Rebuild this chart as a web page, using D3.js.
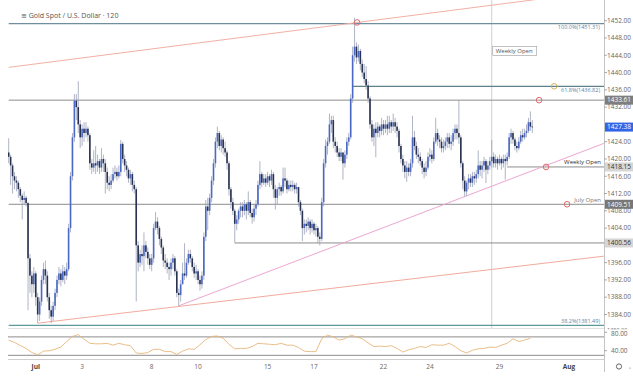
<!DOCTYPE html>
<html>
<head>
<meta charset="utf-8">
<script src="https://cdnjs.cloudflare.com/ajax/libs/d3/7.8.5/d3.min.js"></script>
<style>
body { margin: 0; background: #fff; }
svg { display: block; font-family: "Open Sans", "DejaVu Sans", sans-serif; }
</style>
</head>
<body>
<div id="chart"></div>
<script>
// 2h bars, Jun 28 -> Jul 30 (open of each bar = previous close)
var startOpen = 1421.5;

var closes = [
    1420.5, 1418.5, 1416.0, 1415.0, 1414.5, 1413.0, 1411.5, 1410.5, 1411.0, 1409.8,
    1397, 1393, 1391, 1393.5, 1388, 1384, 1387, 1392, 1394.5, 1393,
    1388, 1385, 1383.5, 1386, 1389, 1392, 1393.5, 1392, 1394, 1393,
    1394.5, 1404, 1416, 1425, 1433.5, 1432, 1428, 1425, 1427, 1426,
    1427, 1425.5, 1419, 1418, 1419, 1418.5, 1419.5, 1418, 1420, 1419,
    1417, 1414.5, 1414, 1415, 1416.5, 1417, 1416, 1417, 1423.5, 1420,
    1418.5, 1417.5, 1415.5, 1416.5, 1414, 1413, 1400, 1396, 1398, 1397.5,
    1400, 1398.5, 1397, 1395.5, 1397, 1404, 1405.5, 1404, 1401.5, 1399.5,
    1396.5, 1396, 1395, 1394.5, 1396, 1397, 1394, 1389, 1388.5, 1391,
    1393.5, 1393, 1396, 1398, 1397, 1395, 1393.5, 1394, 1392, 1391,
    1393, 1402, 1409, 1408, 1411, 1415, 1419, 1424, 1426, 1423,
    1424.5, 1422.5, 1421.5, 1419, 1413, 1410, 1408, 1405, 1406, 1408,
    1409, 1408, 1409.5, 1408, 1410, 1407.5, 1406.5, 1408.5, 1409.5, 1414,
    1416.5, 1414.5, 1415.5, 1414.5, 1416, 1415, 1416.5, 1413, 1411, 1413,
    1413.5, 1412.5, 1415.5, 1415, 1413, 1414, 1413.5, 1414, 1413, 1413.5,
    1410, 1408, 1404, 1405, 1404.5, 1405.5, 1404, 1405, 1403.5, 1404,
    1402, 1401.5, 1410, 1419, 1423, 1424, 1428, 1429, 1424, 1423,
    1421.5, 1420.5, 1421.5, 1419, 1421, 1424, 1425, 1434, 1444, 1446,
    1443.5, 1445, 1442, 1440, 1438.5, 1437, 1434, 1428, 1425, 1427,
    1426, 1427.5, 1426.5, 1428, 1427, 1428, 1427, 1428.5, 1427.5, 1428.5,
    1427.5, 1426.5, 1423, 1420, 1418.5, 1417, 1418, 1417, 1419, 1425,
    1423, 1421, 1420.5, 1419.5, 1418, 1417, 1418, 1420.5, 1421, 1420,
    1424, 1426, 1424.5, 1424, 1422.5, 1423, 1424, 1425, 1423.5, 1424,
    1426, 1427, 1426, 1425, 1419, 1415, 1412.5, 1414.5, 1415.5, 1414.5,
    1416, 1415.5, 1416.5, 1418.5, 1417.5, 1418.5, 1419.5, 1417.5, 1418.5, 1419.5,
    1420.5, 1419, 1420, 1419, 1420, 1419, 1420, 1419.5, 1420.5, 1425,
    1426, 1424.5, 1423, 1422.5, 1424, 1425.5, 1425, 1426, 1426.5, 1428.5,
    1427.5, 1427.38
];

var highs = [
    1424.8, 1421, 1419, 1417, 1416, 1415, 1413.5, 1412, 1412.5, 1411.5,
    1410, 1398, 1394, 1395, 1394, 1389, 1388, 1393, 1396, 1396.5,
    1394, 1389, 1386, 1387, 1390, 1393, 1395, 1394.5, 1395.5, 1395,
    1396, 1405, 1417, 1426, 1435, 1435, 1438, 1429, 1428, 1428.5,
    1428.5, 1427.5, 1426, 1420, 1422, 1423, 1421, 1420, 1422.5, 1421,
    1420, 1418, 1416, 1416.5, 1418, 1418.5, 1418, 1418.5, 1424.4, 1424,
    1421, 1419.5, 1418, 1417.5, 1417, 1415, 1413.5, 1401, 1399, 1400,
    1403, 1401, 1399.5, 1398, 1398, 1405, 1407.7, 1406.5, 1404.5, 1402,
    1400, 1398, 1397, 1396, 1397, 1398, 1397.5, 1394.5, 1390, 1392,
    1396, 1400.5, 1397, 1399, 1399, 1397.5, 1396, 1395.5, 1394.5, 1393,
    1394, 1403, 1410.5, 1411, 1412, 1416, 1420, 1425, 1427.5, 1426.5,
    1425.5, 1425, 1424, 1422, 1419.5, 1413.5, 1411, 1408.5, 1407, 1408.5,
    1410, 1410, 1410.5, 1410, 1412.5, 1410.5, 1408.5, 1409.5, 1410.5, 1415,
    1419.5, 1417, 1416.5, 1416.5, 1417, 1416.5, 1417.5, 1417, 1414, 1413.5,
    1414.5, 1414, 1418, 1418, 1415.5, 1415, 1415, 1415, 1414.5, 1414.5,
    1413.5, 1410.5, 1408.5, 1406, 1406, 1406.5, 1406, 1406, 1405.5, 1405,
    1404.5, 1403, 1411, 1420, 1424.5, 1425, 1430.5, 1430, 1430, 1425,
    1424, 1422.5, 1422.5, 1421.5, 1422, 1425, 1426, 1435, 1446, 1452.7,
    1447, 1446.5, 1445.5, 1443, 1442, 1441.5, 1438, 1434.5, 1429, 1428,
    1428.5, 1428.5, 1428, 1429.5, 1429, 1429, 1430, 1430, 1429, 1430.5,
    1429.5, 1428.5, 1427, 1423.5, 1421, 1419.5, 1419.5, 1419, 1420, 1430,
    1426.5, 1424, 1422.5, 1421.5, 1420, 1419, 1419.5, 1421.5, 1422.5, 1422,
    1425, 1429.5, 1427, 1425.5, 1425, 1424.5, 1425, 1426, 1426, 1425.5,
    1427, 1428, 1428, 1433.6, 1425.5, 1419.5, 1416, 1415, 1416.5, 1416.5,
    1417, 1417, 1417.5, 1422, 1419.5, 1419.5, 1420.5, 1420, 1419.5, 1420.5,
    1424.4, 1421.5, 1421, 1420.5, 1421, 1420.5, 1421, 1421, 1421.5, 1426,
    1427, 1426.5, 1425, 1424, 1425, 1426.5, 1427, 1427, 1428, 1429.5,
    1431, 1429
];

var lows = [
    1419, 1414, 1412, 1413, 1412.5, 1411, 1410, 1406, 1409.5, 1409,
    1385, 1389, 1388, 1389, 1386, 1382, 1382.5, 1386, 1391, 1391,
    1387, 1383, 1382, 1382.5, 1385, 1388, 1391, 1390.5, 1391.5, 1391,
    1392, 1394, 1403, 1415, 1424, 1429, 1426, 1422.5, 1423, 1424,
    1425, 1424, 1417.5, 1416.5, 1417, 1416.5, 1417, 1416.5, 1417, 1417,
    1412, 1413, 1412.5, 1413, 1414.5, 1415.5, 1415, 1415.5, 1416, 1419,
    1417, 1416, 1414.5, 1414, 1412.5, 1412, 1387, 1394, 1395, 1395.5,
    1394, 1397, 1395.5, 1394.5, 1394, 1396, 1403.5, 1402.5, 1400, 1398,
    1395, 1394.5, 1393.5, 1392, 1393, 1394.5, 1393, 1388, 1386, 1387,
    1391, 1392, 1392.5, 1395.5, 1396, 1394, 1392.5, 1392, 1391, 1389.5,
    1390, 1392, 1401, 1403.5, 1407, 1410, 1414, 1418, 1422.5, 1422,
    1421.5, 1421, 1420.5, 1417.5, 1411.5, 1408.5, 1407, 1400.6, 1403.5, 1405,
    1406.5, 1406.5, 1407, 1406, 1407, 1406.5, 1405, 1405.5, 1407, 1409,
    1413, 1413.5, 1414, 1413.5, 1414, 1413.5, 1414, 1411, 1408.3, 1409.5,
    1411.5, 1411.5, 1412, 1413.5, 1412, 1412.5, 1412.5, 1412.5, 1412, 1412,
    1409, 1407, 1401, 1402.5, 1403, 1403.5, 1402.5, 1403, 1402.5, 1402,
    1400.5, 1400, 1401, 1409, 1418, 1421, 1423.5, 1426, 1422.5, 1421.5,
    1420.5, 1419.5, 1419.5, 1415.2, 1418, 1420, 1423, 1424.5, 1433, 1442.5,
    1442, 1442.5, 1440.5, 1439, 1437.5, 1436, 1433, 1427, 1424, 1423,
    1420.4, 1425, 1425, 1425.5, 1425.5, 1426, 1425.5, 1426, 1426, 1426.5,
    1426, 1425, 1421.5, 1419, 1417, 1415.5, 1414.7, 1416, 1416, 1418,
    1422, 1420, 1419, 1418.5, 1416.5, 1415.5, 1416, 1417.5, 1419.5, 1419,
    1419.5, 1423.5, 1423, 1422.5, 1421.5, 1421.5, 1422, 1422.5, 1422.5, 1422,
    1423, 1424.5, 1424.5, 1423.5, 1418, 1413, 1411.3, 1411.5, 1413, 1413.5,
    1413.5, 1414, 1414.5, 1415.5, 1416, 1415.5, 1417, 1414.4, 1416.5, 1417.5,
    1418, 1418, 1418, 1417.5, 1418.5, 1417.5, 1418, 1415.2, 1418.5, 1420,
    1423.5, 1423.5, 1422, 1421.5, 1422, 1423.5, 1424, 1424.5, 1425, 1426,
    1426.5, 1426
];

// RSI read every 3 bars
var rsiStep = 3;
var rsiValues = [
    63, 58, 51, 45, 36, 31, 39, 40, 43, 48,
    60, 71, 75, 65, 56, 55, 55, 56, 52, 56,
    53, 51, 35, 34, 36, 43, 43, 38, 38, 32,
    39, 44, 43, 53, 64, 71, 72, 67, 54, 44,
    45, 45, 49, 56, 55, 54, 53, 56, 52, 52,
    47, 39, 38, 38, 66, 74, 70, 63, 66, 74,
    70, 66, 57, 49, 50, 49, 51, 45, 37, 42,
    45, 49, 47, 53, 52, 52, 56, 49, 40, 35,
    41, 44, 45, 48, 47, 52, 56, 66, 60, 63,
    67
];

// time axis
var timeTickBars = [14, 38, 74, 98, 134, 158, 194, 218, 254, 290];
var timeTickLabels = ["Jul", "3", "8", "10", "15", "17", "22", "24", "29", "Aug"];

// price axis (1400 and 1428 sit under the level boxes)
var priceTicks = [1384, 1388, 1392, 1396, 1404, 1408, 1412, 1416, 1420, 1424,
    1432, 1436, 1440, 1444, 1448, 1452];
var rsiTicks = [40, 80];

// horizontal levels
var levelPrices = [1433.61, 1418.15, 1409.51, 1400.56];
var levelStartBars = [0, 258, 0, 117];
var levelTexts = ["", "Weekly Open", "July Open", ""];

// fibonacci levels
var fibPrices = [1451.31, 1436.82, 1381.49];
var fibLabels = ["100.0%(1451.31)", "61.8%(1436.82)", "38.2%(1381.49)"];
var fibStartBars = [0, 178, 0];

// trend lines [bar, price] anchors
var upperChannel = [[0, 1441.2], [179, 1451.5]];
var lowerChannel = [[15, 1382.0], [308, 1397.5]];
var supportTrend = [[88, 1386.0], [308, 1423.6]];

// markers [bar, price]
var redMarkers = [[180.3, 1451.6], [274.5, 1433.61], [278.1, 1418.15], [289, 1409.51]];
var fibMarker = [282.3, 1436.82];

var weeklyOpenBar = 250;
var lastPrice = 1427.38;

drawChart();

function drawChart() {
    var width = 633, height = 379;
    var paneRight = 604;

    var x = d3.scaleLinear().domain([0, 308]).range([8.7, 603.8]);
    var y = d3.scaleLinear().domain([1384, 1452]).range([314.5, 20.7]);
    var yRsi = d3.scaleLinear().domain([40, 80]).range([350.7, 332.3]);

    var svg = d3.select("#chart").append("svg")
        .attr("width", width)
        .attr("height", height);

    var defs = svg.append("defs");
    defs.append("clipPath").attr("id", "clipPrice")
        .append("rect").attr("x", 8).attr("y", 0).attr("width", paneRight - 8).attr("height", 328);
    defs.append("clipPath").attr("id", "clipRsi")
        .append("rect").attr("x", 8).attr("y", 329).attr("width", paneRight - 8).attr("height", 30);
    defs.append("clipPath").attr("id", "clipAxisTop")
        .append("rect").attr("x", paneRight).attr("y", 0).attr("width", 30).attr("height", 329.5);

    // title
    svg.append("text")
        .attr("x", 21).attr("y", 17.5)
        .style("font-size", "7px")
        .style("fill", "#555")
        .text("\u2261 Gold Spot / U.S. Dollar \u00b7 120");

    var price = svg.append("g").attr("clip-path", "url(#clipPrice)");

    // weekly open vertical
    price.append("line")
        .attr("x1", x(weeklyOpenBar)).attr("x2", x(weeklyOpenBar))
        .attr("y1", 0).attr("y2", 328)
        .style("stroke", "#cfcfcf").style("stroke-width", 1);

    // horizontal levels
    levelPrices.forEach(function(p, i) {
        price.append("line")
            .attr("x1", x(levelStartBars[i])).attr("x2", paneRight)
            .attr("y1", y(p)).attr("y2", y(p))
            .style("stroke", "#8c8c8c").style("stroke-width", 1);
    });

    // fib lines
    var fibColors = ["#6f8ea0", "#5f7f8f", "#5c9a9c"];
    fibPrices.forEach(function(p, i) {
        price.append("line")
            .attr("x1", x(fibStartBars[i])).attr("x2", paneRight)
            .attr("y1", y(p)).attr("y2", y(p))
            .style("stroke", fibColors[i]).style("stroke-width", 1.2);
    });

    // trend lines, extended across the pane
    function trend(anchors, fromBar, color) {
        var a = anchors[0], b = anchors[1];
        var slope = (b[1] - a[1]) / (b[0] - a[0]);
        price.append("line")
            .attr("x1", x(fromBar)).attr("y1", y(a[1] + slope * (fromBar - a[0])))
            .attr("x2", x(308)).attr("y2", y(a[1] + slope * (308 - a[0])))
            .style("stroke", color).style("stroke-width", 1);
    }
    trend(upperChannel, 0, "#f2b0a4");
    trend(lowerChannel, 15, "#f2aa9c");
    trend(supportTrend, 88, "#eca6d0");

    // candles
    var bars = closes.map(function(c, i) {
        return { i: i, open: i === 0 ? startOpen : closes[i - 1], high: highs[i], low: lows[i], close: c };
    });

    var candles = price.selectAll(".candle")
        .data(bars)
        .enter().append("g")
        .attr("class", "candle");

    candles.append("line")
        .attr("x1", function(d) { return x(d.i); })
        .attr("x2", function(d) { return x(d.i); })
        .attr("y1", function(d) { return y(Math.max(d.high, d.open, d.close)); })
        .attr("y2", function(d) { return y(Math.min(d.low, d.open, d.close)); })
        .style("stroke", "#9aa1b8")
        .style("stroke-width", 0.8);

    candles.append("rect")
        .attr("x", function(d) { return x(d.i) - 0.8; })
        .attr("width", 1.6)
        .attr("y", function(d) { return y(Math.max(d.open, d.close)); })
        .attr("height", function(d) { return Math.max(0.8, Math.abs(y(d.open) - y(d.close))); })
        .style("fill", function(d) { return d.close >= d.open ? "#4a68c4" : "#29324f"; });

    // weekly open box
    var wo = price.append("g").attr("transform", "translate(" + (x(weeklyOpenBar) + 1) + ",46.5)");
    wo.append("rect").attr("width", 44).attr("height", 9)
        .style("fill", "#fff").style("stroke", "#9a9a9a").style("stroke-width", 0.6);
    wo.append("text").attr("x", 3).attr("y", 6.8)
        .style("font-size", "6px").style("fill", "#555").text("Weekly Open");

    // fib labels
    fibPrices.forEach(function(p, i) {
        price.append("text")
            .attr("x", 600).attr("y", y(p) + (i === 0 ? 5 : (i === 1 ? 5.5 : -2.5)))
            .attr("text-anchor", "end")
            .style("font-size", "5.5px").style("fill", "#5b7fa8")
            .text(fibLabels[i]);
    });

    // level texts
    levelPrices.forEach(function(p, i) {
        if (!levelTexts[i]) return;
        price.append("text")
            .attr("x", 601).attr("y", y(p) - 2.5)
            .attr("text-anchor", "end")
            .style("font-size", "6px").style("fill", i === 1 ? "#333" : "#777")
            .text(levelTexts[i]);
    });

    // markers
    price.selectAll(".marker")
        .data(redMarkers)
        .enter().append("circle")
        .attr("class", "marker")
        .attr("cx", function(d) { return x(d[0]); })
        .attr("cy", function(d) { return y(d[1]); })
        .attr("r", 2.8)
        .style("fill", "none").style("stroke", "#e06a6a").style("stroke-width", 1);

    price.append("circle")
        .attr("cx", x(fibMarker[0])).attr("cy", y(fibMarker[1]))
        .attr("r", 2.8)
        .style("fill", "none").style("stroke", "#d9b25a").style("stroke-width", 1);

    // RSI pane
    svg.append("line").attr("x1", 8).attr("x2", paneRight).attr("y1", 328.5).attr("y2", 328.5)
        .style("stroke", "#e2e2e2");
    [70, 30].forEach(function(v) {
        svg.append("line").attr("x1", 8).attr("x2", paneRight)
            .attr("y1", yRsi(v)).attr("y2", yRsi(v))
            .style("stroke", "#8c8c8c").style("stroke-width", 1);
    });
    svg.append("line").attr("x1", 8).attr("x2", paneRight).attr("y1", 359.5).attr("y2", 359.5)
        .style("stroke", "#cfcfcf");

    var rsiLine = d3.line()
        .x(function(d, k) { return x(k * rsiStep); })
        .y(function(d) { return yRsi(d); });

    svg.append("g").attr("clip-path", "url(#clipRsi)")
        .append("path")
        .attr("d", rsiLine(rsiValues))
        .style("fill", "none")
        .style("stroke", "#e6b77a")
        .style("stroke-width", 0.9);

    // right axis
    svg.append("line").attr("x1", paneRight + 0.5).attr("x2", paneRight + 0.5)
        .attr("y1", 0).attr("y2", 372)
        .style("stroke", "#c4c4c4");

    var axis = svg.append("g").style("font-size", "6.5px").style("fill", "#666");
    priceTicks.forEach(function(t) {
        axis.append("line").attr("x1", paneRight).attr("x2", paneRight + 3)
            .attr("y1", y(t)).attr("y2", y(t)).style("stroke", "#aaa");
        axis.append("text").attr("x", 607).attr("y", y(t)).attr("dy", "0.35em").text(d3.format(".2f")(t));
    });
    // 1380 is cut by the RSI pane, only its top shows
    axis.append("text").attr("x", 607).attr("y", y(1380) - 1.5).attr("dy", "0.35em")
        .attr("clip-path", "url(#clipAxisTop)")
        .style("font-size", "5.5px")
        .text(d3.format(".2f")(1380));
    rsiTicks.forEach(function(t) {
        axis.append("line").attr("x1", paneRight).attr("x2", paneRight + 3)
            .attr("y1", yRsi(t)).attr("y2", yRsi(t)).style("stroke", "#aaa");
        axis.append("text").attr("x", 611).attr("y", yRsi(t) + (t === 80 ? 1.5 : 0)).attr("dy", "0.35em").text(d3.format(".2f")(t));
    });

    // price axis highlight boxes
    var boxes = [
        { p: levelPrices[0], fill: "#7e7e7e", text: "#fff" },
        { p: lastPrice, fill: "#3366e6", text: "#fff" },
        { p: levelPrices[1], fill: "#d6d6d6", text: "#333" },
        { p: levelPrices[2], fill: "#777", text: "#fff" },
        { p: levelPrices[3], fill: "#d6d6d6", text: "#333" }
    ];
    boxes.forEach(function(b) {
        svg.append("rect").attr("x", paneRight + 1).attr("y", y(b.p) - 4.5)
            .attr("width", 29).attr("height", 9).style("fill", b.fill);
        svg.append("text").attr("x", 607).attr("y", y(b.p)).attr("dy", "0.35em")
            .style("font-size", "6.5px").style("fill", b.text)
            .text(d3.format(".2f")(b.p));
    });

    // time axis
    timeTickBars.forEach(function(b, i) {
        var month = isNaN(+timeTickLabels[i]);
        svg.append("text")
            .attr("x", x(b)).attr("y", 368.5)
            .attr("text-anchor", "middle")
            .style("font-size", "6.5px")
            .style("font-weight", month ? "bold" : "normal")
            .style("fill", month ? "#444" : "#666")
            .text(timeTickLabels[i]);
    });

    // settings icon
    svg.append("circle").attr("cx", 619).attr("cy", 366.5).attr("r", 2.6)
        .style("fill", "none").style("stroke", "#666").style("stroke-width", 1);
    svg.append("circle").attr("cx", 630).attr("cy", 368).attr("r", 0.6).style("fill", "#666");
}
</script>
</body>
</html>
